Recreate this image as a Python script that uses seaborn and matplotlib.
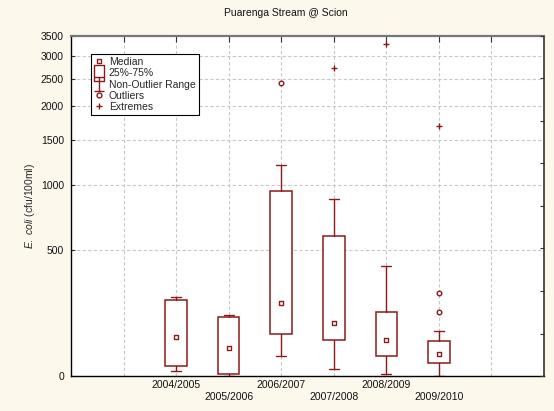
import numpy as np
import pandas as pd
import matplotlib
matplotlib.use("Agg")
import matplotlib.pyplot as plt
from matplotlib.lines import Line2D
from matplotlib.path import Path
import seaborn as sns

# Seasonal E. coli summaries (cfu/100ml)
seasons = ["2004/2005", "2005/2006", "2006/2007", "2007/2008", "2008/2009", "2009/2010"]
medians = [112, 76, 237, 158, 100, 60]
q1 = [26, 4, 121, 102, 53, 34]
q3 = [250, 180, 938, 590, 199, 99]
whisker_lo = [13, 0, 52, 18, 4, 0]
whisker_hi = [261, 189, 1201, 870, 410, 131]
outlier_season = ["2006/2007", "2009/2010", "2009/2010"]
outlier_value = [2420, 277, 199]
extreme_season = ["2007/2008", "2008/2009", "2009/2010"]
extreme_value = [2730, 3300, 1690]
y_ticks = [0, 500, 1000, 1500, 2000, 2500, 3000, 3500]

RED = "#8b1a1a"
BG = "#fdf8ec"
GRID = "#c8c8c8"

sns.set_theme(style="white")
plt.rcParams["font.family"] = ["Liberation Sans", "DejaVu Sans"]
plt.rcParams["mathtext.fontset"] = "custom"
plt.rcParams["mathtext.it"] = "Liberation Sans:italic"
plt.rcParams["mathtext.rm"] = "Liberation Sans"

pos = {s: i for i, s in enumerate(seasons)}
box_df = pd.DataFrame({"season": seasons, "pos": range(len(seasons)), "median": medians,
                       "q1": q1, "q3": q3, "lo": whisker_lo, "hi": whisker_hi})
out_df = pd.DataFrame({"pos": [pos[s] for s in outlier_season], "value": outlier_value})
ext_df = pd.DataFrame({"pos": [pos[s] for s in extreme_season], "value": extreme_value})

# offset-log axis: y -> ln(1 + y/350)
OFF = 350.0
def fwd(y):
    y = np.asarray(y, dtype=float)
    return np.log1p(np.clip(y, -OFF * 0.999, None) / OFF)

def inv(u):
    return OFF * np.expm1(np.asarray(u, dtype=float))

fig = plt.figure(figsize=(5.54, 4.11), dpi=100, facecolor=BG)
ax = fig.add_axes([71 / 554, 1 - 376 / 411, 473 / 554, 340 / 411])
ax.set_facecolor("white")
ax.set_yscale("function", functions=(fwd, inv))
ax.set_ylim(0, 3500)
ax.set_xlim(-2, 7)

# boxes and whiskers
stats = [dict(med=r["median"], q1=r["q1"], q3=r["q3"], whislo=r["lo"], whishi=r["hi"], fliers=[])
         for _, r in box_df.iterrows()]
ax.bxp(stats, positions=box_df["pos"], widths=0.41, capwidths=0.19, patch_artist=True,
       showfliers=False, manage_ticks=False,
       boxprops=dict(facecolor="white", edgecolor=RED, linewidth=1.1),
       whiskerprops=dict(color=RED, linewidth=1.0),
       capprops=dict(color=RED, linewidth=1.0),
       medianprops=dict(visible=False), zorder=3)

sns.scatterplot(data=box_df, x="pos", y="median", marker="s", s=10, color="white",
                edgecolor=RED, linewidth=1.0, ax=ax, zorder=5, legend=False)
sns.scatterplot(data=out_df, x="pos", y="value", marker="o", s=11, color="white",
                edgecolor=RED, linewidth=1.0, ax=ax, zorder=5, legend=False)
sns.scatterplot(data=ext_df, x="pos", y="value", marker="+", s=16, color=RED,
                linewidth=1.0, ax=ax, zorder=5, legend=False)

# axes, ticks, grid
xt = list(range(-1, 7))
xl = [""] + [("\n" + s) if i % 2 else s for i, s in enumerate(seasons)] + [""]
ax.set_xticks(xt)
ax.set_xticklabels(xl, fontsize=7.5, color="#111111")
ax.set_yticks(y_ticks)
ax.set_yticklabels([str(v) for v in y_ticks], fontsize=7.5, color="#111111")
ax.tick_params(axis="x", direction="in", length=4, width=0.8, top=True, pad=3, color="#333333")
ax.tick_params(axis="x", which="major", labeltop=False)
ax.tick_params(axis="y", direction="in", length=3, width=0.8, left=True, pad=5, color="#333333")
ax.grid(True, linestyle=(0, (3, 2)), color=GRID, linewidth=0.8)
ax.set_axisbelow(True)
ax.set_xlabel("")
ax.set_ylabel(r"$\it{E.\ coli}$ (cfu/100ml)", fontsize=7.5, va="center")
ax.yaxis.set_label_coords(-(71 - 30) / 473, 0.5)

for side in ["left", "bottom"]:
    ax.spines[side].set_color("black")
    ax.spines[side].set_linewidth(1.0)
ax.spines["top"].set_color("#777777")
ax.spines["top"].set_linewidth(1.6)
ax.spines["right"].set_color("#333333")
ax.spines["right"].set_linewidth(1.2)

# evenly spaced ticks on the right edge (transformed units)
axr = ax.twinx()
axr.set_ylim(0, 8)
axr.set_yticks(range(9))
axr.set_yticklabels([])
axr.tick_params(axis="y", direction="in", length=3, width=0.8, right=True, color="#333333")
axr.grid(False)
for sp in axr.spines.values():
    sp.set_visible(False)

# legend
rect_marker = Path([(-0.35, -0.5), (0.35, -0.5), (0.35, 0.5), (-0.35, 0.5), (-0.35, -0.5)],
                   [Path.MOVETO, Path.LINETO, Path.LINETO, Path.LINETO, Path.CLOSEPOLY])
range_marker = Path([(-0.35, 0.5), (0.35, 0.5), (0, 0.5), (0, -0.5), (-0.35, -0.5), (0.35, -0.5)],
                    [Path.MOVETO, Path.LINETO, Path.MOVETO, Path.LINETO, Path.MOVETO, Path.LINETO])
handles = [
    Line2D([], [], ls="none", marker="s", ms=3.5, mfc="white", mec=RED, mew=1.0),
    Line2D([], [], ls="none", marker=rect_marker, ms=11, mfc="white", mec=RED, mew=1.0),
    Line2D([], [], ls="none", marker=range_marker, ms=10, mfc="none", mec=RED, mew=1.0),
    Line2D([], [], ls="none", marker="o", ms=3.5, mfc="white", mec=RED, mew=1.0),
    Line2D([], [], ls="none", marker="+", ms=4, mfc=RED, mec=RED, mew=1.0),
]
labels = ["Median", "25%-75%", "Non-Outlier Range", "Outliers", "Extremes"]
leg = ax.legend(handles, labels, loc="upper left", bbox_to_anchor=(20 / 473, 1 - 18 / 340),
                borderaxespad=0, fontsize=7.5, frameon=True, fancybox=False,
                edgecolor="black", framealpha=1, handlelength=1.0, handletextpad=0.4,
                labelspacing=0.12, borderpad=0.3)
leg.get_frame().set_linewidth(0.8)

fig.text(286 / 554, 1 - 13 / 411, "Puarenga Stream @ Scion", fontsize=7.5,
         ha="center", va="center", color="#111111")

fig.savefig("out.png", dpi=100, facecolor=BG)
